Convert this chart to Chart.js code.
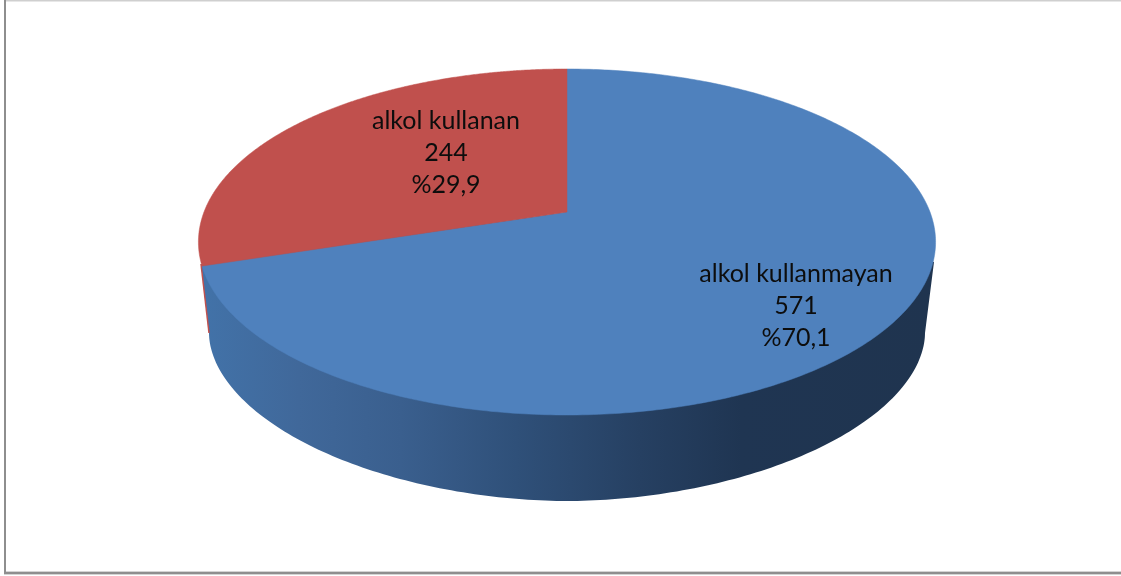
<!DOCTYPE html>
<html>
<head>
<meta charset="utf-8">
<style>html,body{margin:0;padding:0;background:#fff}canvas{display:block}</style>
<script src="https://cdn.jsdelivr.net/npm/chart.js@4/dist/chart.umd.min.js"></script>
</head>
<body>
<canvas id="c" width="1121" height="576"></canvas>
<script>
const categories = ['alkol kullanmayan', 'alkol kullanan'];
const counts = [571, 244];
const percentLabels = ['%70,1', '%29,9'];
const sliceColors = ['#4F81BD', '#C0504D'];

// Perspective of the tilted disc: the hub sits above the ellipse centre.
const persp = { p: -0.1734, sx: 363 / 212, sy: 167.8 / 212 };

function project(el, angle) {
  const u = Math.cos(angle), v = Math.sin(angle);
  const w = 1 + persp.p * v;
  return [el.x + persp.sx * el.outerRadius * u / w,
          el.y + persp.sy * el.outerRadius * v / w];
}

Chart.ArcElement.prototype.draw = function (ctx) {
  const steps = 360;
  ctx.save();
  ctx.beginPath();
  ctx.moveTo(this.x, this.y);
  for (let i = 0; i <= steps; i++) {
    const a = this.startAngle + (this.endAngle - this.startAngle) * i / steps;
    const pt = project(this, a);
    ctx.lineTo(pt[0], pt[1]);
  }
  ctx.closePath();
  ctx.fillStyle = this.options.backgroundColor;
  ctx.fill();
  ctx.strokeStyle = this.options.backgroundColor;
  ctx.lineWidth = 0.5;
  ctx.stroke();
  ctx.restore();
};

const frame = {
  id: 'frame',
  beforeDraw(chart) {
    const c = chart.ctx;
    c.save();
    c.fillStyle = '#fff';
    c.fillRect(0, 0, chart.width, chart.height);
    c.fillStyle = '#cfcfcf';
    c.fillRect(5, 0, chart.width - 5, 1.5);
    c.fillStyle = '#8e8e8e';
    c.fillRect(4, 0, 2, 574);
    c.fillRect(4, 572, chart.width - 4, 2);
    c.fillStyle = '#d4d4d4';
    c.fillRect(6, 571, chart.width - 6, 1);
    c.fillRect(4, 574, chart.width - 4, 1);
    c.restore();
  }
};

const wall = {
  id: 'wall',
  beforeDatasetsDraw(chart) {
    const c = chart.ctx;
    const cx = chart.getDatasetMeta(0).data[0].x;
    const cy = 333, rx = 358, ry = 168, n = 1.9;
    const g = c.createLinearGradient(205, 0, 930, 0);
    g.addColorStop(0, '#4272A8');
    g.addColorStop(0.13, '#40689A');
    g.addColorStop(0.27, '#3A5F8E');
    g.addColorStop(0.43, '#2F5079');
    g.addColorStop(0.6, '#264062');
    g.addColorStop(0.74, '#1F3552');
    g.addColorStop(1, '#1F344F');
    c.save();
    c.beginPath();
    c.moveTo(201, 264);
    for (let i = 0; i <= 180; i++) {
      const t = Math.PI * (1 - i / 180);
      const ct = Math.cos(t), st = Math.sin(t);
      c.lineTo(cx + rx * Math.sign(ct) * Math.pow(Math.abs(ct), 2 / n),
               cy + ry * Math.pow(Math.abs(st), 2 / n));
    }
    c.lineTo(934, 262);
    c.lineTo(cx, 212);
    c.closePath();
    c.fillStyle = g;
    c.fill();
    c.beginPath();
    c.moveTo(201, 264);
    c.lineTo(cx - rx, cy);
    c.strokeStyle = sliceColors[1];
    c.lineWidth = 1.5;
    c.stroke();
    c.restore();
  }
};

const labels3d = {
  id: 'labels3d',
  afterDatasetsDraw(chart, args, opts) {
    const c = chart.ctx;
    c.save();
    c.font = opts.font;
    c.fillStyle = opts.color;
    c.textAlign = 'center';
    c.textBaseline = 'middle';
    categories.forEach((cat, i) => {
      const [x, y] = opts.centers[i];
      [cat, String(counts[i]), percentLabels[i]].forEach((line, k) => {
        c.fillText(line, x, y + (k - 1) * opts.lineHeight);
      });
    });
    c.restore();
  }
};

new Chart(document.getElementById('c'), {
  type: 'pie',
  data: {
    labels: categories,
    datasets: [{ data: counts, backgroundColor: sliceColors, borderWidth: 0 }]
  },
  options: {
    responsive: false,
    animation: false,
    layout: { padding: { left: 13, right: 0, top: 0, bottom: 152 } },
    plugins: {
      legend: { display: false },
      tooltip: { enabled: false },
      labels3d: {
        font: '25px Lato, "Open Sans", sans-serif',
        color: '#0d0d0d',
        lineHeight: 32,
        centers: [[796, 306], [446, 153]]
      }
    }
  },
  plugins: [frame, wall, labels3d]
});
</script>
</body>
</html>
